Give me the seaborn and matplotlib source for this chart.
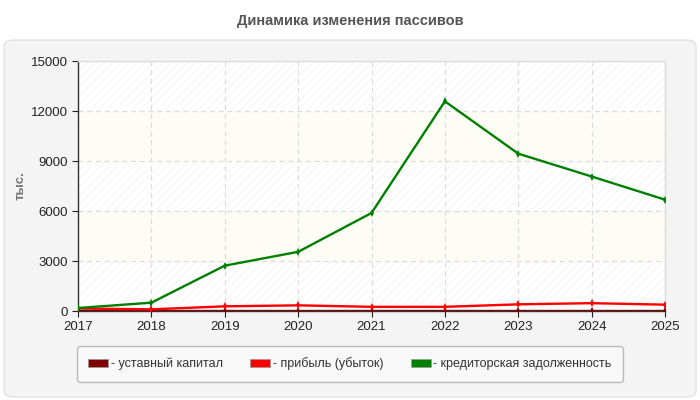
import matplotlib
matplotlib.use("Agg")
import matplotlib.pyplot as plt
from matplotlib.patches import FancyBboxPatch, Patch
import pandas as pd
import seaborn as sns

# Data
years = [2017, 2018, 2019, 2020, 2021, 2022, 2023, 2024, 2025]
ustavny = [10, 10, 10, 10, 10, 10, 10, 10, 10]
pribyl = [150, 100, 280, 340, 250, 250, 400, 470, 380]
kreditor = [180, 500, 2720, 3550, 5880, 12580, 9440, 8070, 6680]

series_names = ["уставный капитал", "прибыль (убыток)", "кредиторская задолженность"]
colors = ["#800000", "#ff0000", "#008000"]

df = pd.DataFrame({
    "year": years * 3,
    "value": ustavny + pribyl + kreditor,
    "series": [series_names[0]] * 9 + [series_names[1]] * 9 + [series_names[2]] * 9,
})

sns.set_style("white")
plt.rcParams["font.family"] = ["Liberation Sans", "DejaVu Sans"]
plt.rcParams["hatch.linewidth"] = 0.5

fig = plt.figure(figsize=(7, 4), dpi=100)
fig.patch.set_facecolor("white")

# rounded grey panel behind the chart
panel = FancyBboxPatch((4 / 700, 3 / 400), 692 / 700, 357 / 400,
                       boxstyle="round,pad=0,rounding_size=0.015",
                       transform=fig.transFigure, facecolor="#f4f4f4",
                       edgecolor="#e2e2e2", linewidth=1, zorder=-10)
fig.patches.append(panel)

fig.text(0.5, 0.948, "Динамика изменения пассивов", ha="center", va="center",
         fontsize=10.5, fontweight="bold", color="#555555")

ax = fig.add_axes([78 / 700, 89 / 400, 587 / 700, 250 / 400])
ax.set_zorder(2)
ax.set_facecolor("white")

# alternating bands
for i, (lo, hi) in enumerate([(0, 3000), (3000, 6000), (6000, 9000), (9000, 12000), (12000, 15000)]):
    if i % 2 == 0:
        ax.axhspan(lo, hi, facecolor="white", edgecolor="#f1f1f1", hatch="////",
                   linewidth=0, zorder=0)
    else:
        ax.axhspan(lo, hi, facecolor="#fdfdf5", linewidth=0, zorder=0)

sns.lineplot(data=df, x="year", y="value", hue="series", hue_order=series_names,
             palette=colors, linewidth=1.7, marker="d", markersize=4,
             markeredgewidth=0, ax=ax, legend=False, zorder=3)

ax.set_xlim(2017, 2025)
ax.set_ylim(0, 15000)
ax.set_xticks(years)
ax.set_yticks([0, 3000, 6000, 9000, 12000, 15000])
ax.tick_params(axis="both", labelsize=9.5, colors="#222222", length=4,
               direction="out", bottom=True, left=True)
ax.grid(True, color="#dddddd", linestyle=(0, (4, 3)), linewidth=0.9)
ax.set_axisbelow(True)
ax.set_xlabel("")
ax.set_ylabel("тыс.", fontsize=9.5, fontweight="bold", color="#777777")
ax.yaxis.set_label_coords(-0.088, 0.5)

for side in ["left", "bottom"]:
    ax.spines[side].set_color("#333333")
    ax.spines[side].set_linewidth(1)
for side in ["top", "right"]:
    ax.spines[side].set_color("#dddddd")
    ax.spines[side].set_linewidth(1)

handles = [Patch(facecolor=c, edgecolor="#999999", linewidth=0.5) for c in colors]
labels = ["- " + n for n in series_names]
leg = fig.legend(handles, labels, loc="center", bbox_to_anchor=(350 / 700, 1 - 364 / 400),
                 ncol=3, fontsize=9, frameon=True, fancybox=True, handlelength=1.6,
                 handleheight=0.6, handletextpad=0.2, columnspacing=2.2,
                 borderpad=0.9)
leg.get_frame().set_facecolor("#fafafa")
leg.get_frame().set_edgecolor("#aaaaaa")
for t in leg.get_texts():
    t.set_color("#333333")

fig.savefig("out.png", dpi=100)
